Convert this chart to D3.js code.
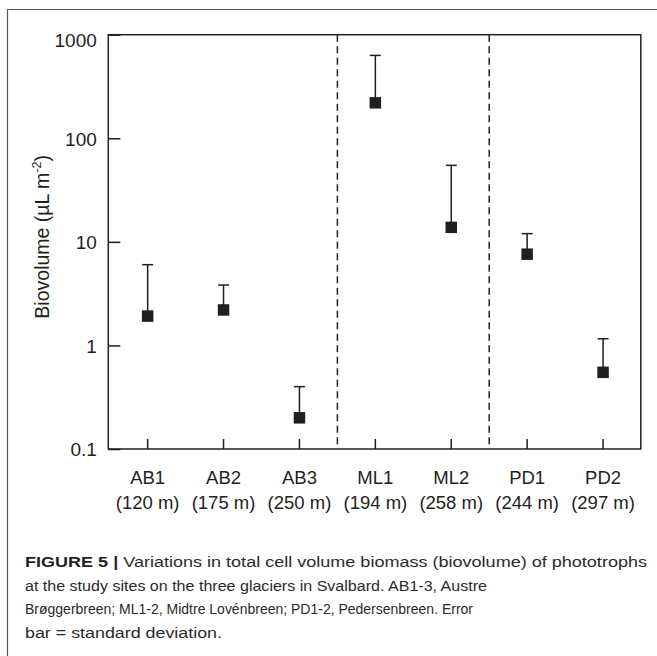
<!DOCTYPE html>
<html>
<head>
<meta charset="utf-8">
<script src="https://cdn.jsdelivr.net/npm/d3@7/dist/d3.min.js"></script>
<style>
  html, body { margin: 0; padding: 0; background: #fff; }
  svg { display: block; }
</style>
</head>
<body>
<script>
// ---- data ----
const sites = ["AB1", "AB2", "AB3", "ML1", "ML2", "PD1", "PD2"];
const altitudes = ["(120 m)", "(175 m)", "(250 m)", "(194 m)", "(258 m)", "(244 m)", "(297 m)"];
const biovolume = [1.92, 2.2, 0.2, 220, 13.8, 7.6, 0.55];
const sd = [4.1, 1.63, 0.2, 411, 41, 4.4, 0.61];
const glacierGroups = [["AB1", "AB2", "AB3"], ["ML1", "ML2"], ["PD1", "PD2"]];
const yTicks = [0.1, 1, 10, 100, 1000];
const yTickLabels = ["0.1", "1", "10", "100", "1000"];
const captionBold = "FIGURE 5 | ";
const captionLines = [
  "Variations in total cell volume biomass (biovolume) of phototrophs",
  "at the study sites on the three glaciers in Svalbard. AB1-3, Austre",
  "Brøggerbreen; ML1-2, Midtre Lovénbreen; PD1-2, Pedersenbreen. Error",
  "bar = standard deviation."
];

const W = 657, H = 656;
const ink = "#231f20";
const font = "'Liberation Sans', Arial, Helvetica, sans-serif";

const svg = d3.select("body").append("svg")
  .attr("width", W).attr("height", H);

// outer figure frame (left and top edges visible)
svg.append("path")
  .attr("d", "M7.5,700 V9.5 H700")
  .attr("fill", "none").attr("stroke", "#555").attr("stroke-width", 1.2);

const plot = { left: 108.3, right: 640.8, top: 34.7, bottom: 449 };

const x = d3.scaleBand().domain(sites).range([109.7, 641]).padding(0);
const y = d3.scaleLog().domain([0.1, 1000]).range([plot.bottom, plot.top]);

// plot box
svg.append("rect")
  .attr("x", plot.left).attr("y", plot.top)
  .attr("width", plot.right - plot.left).attr("height", plot.bottom - plot.top)
  .attr("fill", "none").attr("stroke", ink).attr("stroke-width", 1.5);

// y axis (inward ticks)
const yAxis = d3.axisLeft(y).tickValues(yTicks)
  .tickFormat((d, i) => yTickLabels[i]).tickSize(-12).tickPadding(11.5);
const gy = svg.append("g").attr("transform", `translate(${plot.left},0)`).call(yAxis);
gy.select(".domain").remove();
gy.selectAll(".tick line").attr("stroke", ink).attr("stroke-width", 1.5);
gy.selectAll(".tick text")
  .attr("font-family", font).attr("font-size", 19).attr("fill", ink)
  .attr("dy", (d) => d === 1000 ? "0.62em" : "0.36em");

// x axis (inward ticks)
const xAxis = d3.axisBottom(x).tickSize(-10).tickFormat("");
const gx = svg.append("g").attr("transform", `translate(0,${plot.bottom})`).call(xAxis);
gx.select(".domain").remove();
gx.selectAll(".tick line").attr("stroke", ink).attr("stroke-width", 1.5);
gx.selectAll(".tick").each(function (d, i) {
  const t = d3.select(this).append("text")
    .attr("font-family", font).attr("font-size", 18.5).attr("fill", ink)
    .attr("text-anchor", "middle");
  t.append("tspan").attr("x", 0).attr("y", 35).text(sites[i]);
  t.append("tspan").attr("x", 0).attr("y", 59.5).text(altitudes[i]);
});

// group dividers (dashed)
glacierGroups.slice(0, -1).forEach((g) => {
  const last = g[g.length - 1];
  const xp = x(last) + x.bandwidth();
  svg.append("line")
    .attr("x1", xp).attr("x2", xp)
    .attr("y1", plot.top).attr("y2", plot.bottom)
    .attr("stroke", ink).attr("stroke-width", 1.5)
    .attr("stroke-dasharray", "7,4.5");
});

// y axis title
const yt = svg.append("text")
  .attr("transform", `translate(49,${(plot.top + plot.bottom) / 2 - 5}) rotate(-90)`)
  .attr("text-anchor", "middle")
  .attr("font-family", font).attr("font-size", 19.5).attr("fill", ink);
yt.append("tspan").text("Biovolume (µL m");
yt.append("tspan").attr("font-size", 12.5).attr("dy", -8).text("-2");
yt.append("tspan").attr("dy", 8).text(")");

// data: error bars + markers
const data = sites.map((s, i) => ({ s, m: biovolume[i], sd: sd[i] }));
const cx = (d) => x(d.s) + x.bandwidth() / 2;
const eb = svg.append("g");
eb.selectAll("line.err").data(data).join("line")
  .attr("x1", cx).attr("x2", cx)
  .attr("y1", (d) => y(d.m)).attr("y2", (d) => y(d.m + d.sd))
  .attr("stroke", ink).attr("stroke-width", 1.5);
eb.selectAll("line.cap").data(data).join("line")
  .attr("x1", (d) => cx(d) - 5.5).attr("x2", (d) => cx(d) + 5.5)
  .attr("y1", (d) => y(d.m + d.sd)).attr("y2", (d) => y(d.m + d.sd))
  .attr("stroke", ink).attr("stroke-width", 1.5);
const ms = 11.5;
svg.append("g").selectAll("rect").data(data).join("rect")
  .attr("x", (d) => cx(d) - ms / 2).attr("y", (d) => y(d.m) - ms / 2)
  .attr("width", ms).attr("height", ms).attr("fill", ink);

// caption (condensed look: each line fitted to its width in the reference)
const capX = 25;
const capBaselines = [567, 590.5, 614, 637.5];
const capEnds = [647, 487, 473, 222];
captionLines.forEach((line, i) => {
  const t = svg.append("text")
    .attr("x", capX).attr("y", capBaselines[i])
    .attr("font-family", font).attr("font-size", 15.5).attr("fill", "#2a2a2a")
    .attr("textLength", capEnds[i] - capX).attr("lengthAdjust", "spacingAndGlyphs");
  if (i === 0) {
    t.append("tspan").attr("font-weight", "bold").attr("fill", ink).text(captionBold);
  }
  t.append("tspan").text(line);
});
</script>
</body>
</html>
